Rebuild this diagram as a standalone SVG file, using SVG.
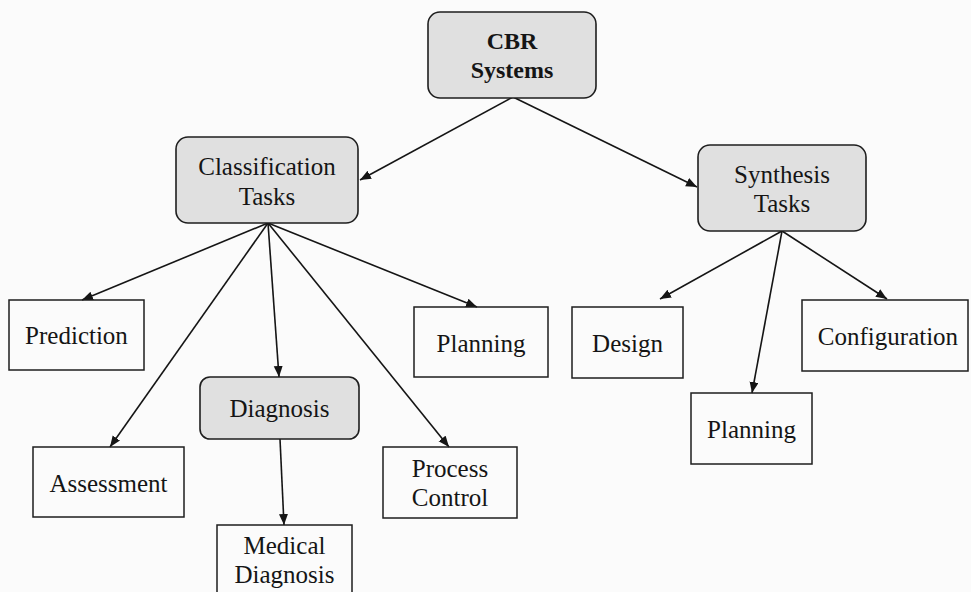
<svg xmlns="http://www.w3.org/2000/svg" width="971" height="592" viewBox="0 0 971 592">
  <style>
    .bg { fill: #fbfbfb; }
    .cat { fill: #e0e0e0; stroke: #1e1e1e; stroke-width: 1.6; }
    .leaf { fill: none; stroke: #1e1e1e; stroke-width: 1.5; }
    .lbl { font-family: "Liberation Serif", "Times New Roman", serif; font-size: 25px; fill: #151515; text-anchor: middle; }
    .bold { font-weight: bold; font-size: 24px; }
    .edge { stroke: #151515; stroke-width: 1.6; fill: none; marker-end: url(#head); }
  </style>
  <defs>
    <marker id="head" markerUnits="userSpaceOnUse" markerWidth="12" markerHeight="10" refX="11" refY="4.5" orient="auto">
      <path d="M0,0 L11,4.5 L0,9 Z" fill="#151515"/>
    </marker>
  </defs>

  <rect class="bg" x="0" y="0" width="971" height="592"/>

  <!-- connectors -->
  <g id="connectors">
    <line class="edge" x1="513" y1="97" x2="360" y2="180"/>
    <line class="edge" x1="513" y1="97" x2="697" y2="187"/>
    <line class="edge" x1="268" y1="223" x2="82" y2="300"/>
    <line class="edge" x1="268" y1="223" x2="110" y2="447"/>
    <line class="edge" x1="268" y1="223" x2="279" y2="377"/>
    <line class="edge" x1="268" y1="223" x2="449" y2="447"/>
    <line class="edge" x1="268" y1="223" x2="477" y2="307"/>
    <line class="edge" x1="280" y1="439" x2="284" y2="525"/>
    <line class="edge" x1="782" y1="231" x2="660" y2="299"/>
    <line class="edge" x1="782" y1="231" x2="752" y2="393"/>
    <line class="edge" x1="782" y1="231" x2="887" y2="299"/>
  </g>

  <!-- category nodes -->
  <g id="cbr-systems">
    <rect class="cat" x="428" y="12" width="168" height="86" rx="12"/>
    <text class="lbl bold" x="512" y="49">CBR</text>
    <text class="lbl bold" x="512" y="78">Systems</text>
  </g>
  <g id="classification-tasks">
    <rect class="cat" x="176" y="137" width="182" height="86" rx="12"/>
    <text class="lbl" x="267" y="175">Classification</text>
    <text class="lbl" x="267" y="205">Tasks</text>
  </g>
  <g id="synthesis-tasks">
    <rect class="cat" x="698" y="145" width="168" height="86" rx="12"/>
    <text class="lbl" x="782" y="183">Synthesis</text>
    <text class="lbl" x="782" y="212">Tasks</text>
  </g>
  <g id="diagnosis">
    <rect class="cat" x="200" y="377" width="159" height="62" rx="10"/>
    <text class="lbl" x="279.5" y="417">Diagnosis</text>
  </g>

  <!-- task nodes -->
  <g id="prediction">
    <rect class="leaf" x="9" y="300" width="135" height="70"/>
    <text class="lbl" x="76.5" y="344">Prediction</text>
  </g>
  <g id="assessment">
    <rect class="leaf" x="33" y="447" width="151" height="70"/>
    <text class="lbl" x="108.5" y="492">Assessment</text>
  </g>
  <g id="medical-diagnosis">
    <rect class="leaf" x="217" y="525" width="135" height="80"/>
    <text class="lbl" x="284.5" y="554">Medical</text>
    <text class="lbl" x="284.5" y="583">Diagnosis</text>
  </g>
  <g id="process-control">
    <rect class="leaf" x="383" y="447" width="134" height="71"/>
    <text class="lbl" x="450" y="477">Process</text>
    <text class="lbl" x="450" y="506">Control</text>
  </g>
  <g id="planning-classification">
    <rect class="leaf" x="414" y="307" width="134" height="70"/>
    <text class="lbl" x="481" y="352">Planning</text>
  </g>
  <g id="design">
    <rect class="leaf" x="572" y="307" width="111" height="71"/>
    <text class="lbl" x="627.5" y="352">Design</text>
  </g>
  <g id="planning-synthesis">
    <rect class="leaf" x="691" y="393" width="121" height="71"/>
    <text class="lbl" x="751.5" y="438">Planning</text>
  </g>
  <g id="configuration">
    <rect class="leaf" x="802" y="300" width="166" height="71"/>
    <text class="lbl" x="888" y="345">Configuration</text>
  </g>
</svg>
